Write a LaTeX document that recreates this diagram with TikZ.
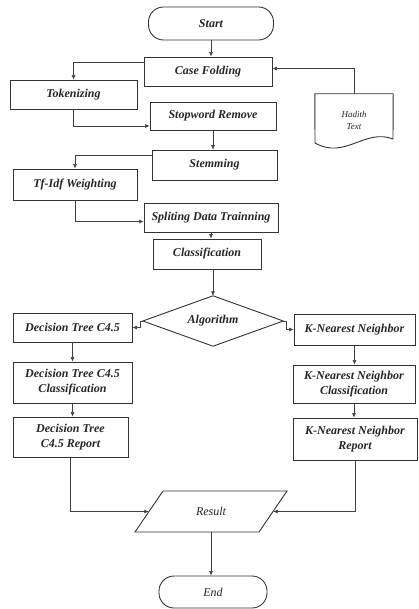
\documentclass[tikz,border=0pt]{standalone}
\usepackage{fontspec}
\setmainfont{Liberation Serif}
\usetikzlibrary{arrows.meta}
\begin{document}
\begin{tikzpicture}[x=1pt,y=-1pt,
  box/.style={draw=black!80,line width=0.9pt,inner sep=0pt,align=center,
    text=black!85,font=\fontsize{12}{15}\selectfont\bfseries\itshape},
  term/.style={box,rounded corners=15pt},
  ghost/.style={inner sep=0pt,align=center,text=black!85,
    font=\fontsize{12}{15}\selectfont\bfseries\itshape},
  shp/.style={draw=black!80,line width=0.9pt},
  arr/.style={draw=black!75,line width=0.6pt,-{Latex[length=4.5pt,width=4pt]}},
  ln/.style={draw=black!75,line width=0.6pt}]
\useasboundingbox (0,0) rectangle (418,609);
\fill[white] (0,0) rectangle (418,609);

\node[term,minimum width=125pt,minimum height=33pt] (start) at (211,23.5) {Start};
\node[box,minimum width=128pt,minimum height=29pt] (cf) at (208,71.5) {Case Folding};
\node[box,minimum width=127pt,minimum height=29pt] (tok) at (73.5,94.5) {Tokenizing};
\node[box,minimum width=126pt,minimum height=28pt] (sw) at (213,116) {Stopword Remove};
\node[inner sep=0pt,minimum width=78pt,minimum height=52pt,align=center,
  text=black!85,font=\fontsize{9}{12}\selectfont\itshape] (hadith) at (354,120) {Hadith\\Text};
\draw[shp] (hadith.north west) -- (hadith.north east) -- (393,139)
  .. controls (365,128) and (345,160) .. (315,143) -- cycle;
\node[box,minimum width=125pt,minimum height=30pt] (stem) at (214.5,165) {Stemming};
\node[box,minimum width=124pt,minimum height=31pt] (tfidf) at (75,184.5) {Tf-Idf Weighting};
\node[box,minimum width=134pt,minimum height=29pt] (split) at (211,217.5) {Spliting Data Trainning};
\node[box,minimum width=108pt,minimum height=30pt] (cls) at (207,254) {Classification};
\node[ghost,minimum width=140pt,minimum height=50pt] (alg) at (213,321) {Algorithm};
\draw[shp] (alg.north) -- (alg.east) -- (alg.south) -- (alg.west) -- cycle;
\node[box,minimum width=119pt,minimum height=29pt] (dt) at (72.5,327.5) {Decision Tree C4.5};
\node[box,minimum width=121pt,minimum height=31pt] (knn) at (354.5,329.5) {K-Nearest Neighbor};
\node[box,minimum width=119pt,minimum height=41pt] (dtc) at (72.5,382.5) {Decision Tree C4.5\\Classification};
\node[box,minimum width=122pt,minimum height=38pt] (knnc) at (354,384) {K-Nearest Neighbor\\Classification};
\node[box,minimum width=115pt,minimum height=40pt] (dtr) at (70.5,437) {Decision Tree\\C4.5 Report};
\node[box,minimum width=124pt,minimum height=42pt] (knnr) at (355,439) {K-Nearest Neighbor\\Report};
\node[ghost,font=\fontsize{12}{15}\selectfont\itshape,minimum width=124pt,minimum height=41pt] (res) at (211,511.5) {Result};
\draw[shp] (135,532) -- (163,491) -- (287,491) -- (259,532) -- cycle;
\node[term,minimum width=108pt,minimum height=32pt,font=\fontsize{12}{15}\selectfont\itshape] (end) at (213,592) {End};

\draw[arr] (start.south) -- (start.south |- cf.north);
\draw[arr] ([yshift=9.5pt]cf.west) -| (tok.north);
\draw[arr] (tok.south) |- ([yshift=-10pt]sw.west);
\draw[arr] (hadith.north) |- ([yshift=3pt]cf.east);
\draw[arr] (sw.south) -- (sw.south |- stem.north);
\draw[arr] ([yshift=10pt]stem.west) -| (tfidf.north);
\draw[arr] (tfidf.south) |- ([yshift=-4pt]split.west);
\draw[arr] (split.south) -- (split.south |- cls.north);
\draw[arr] (alg.north |- cls.south) -- (alg.north);
\draw[arr] (alg.west) -- ++(-3,0) |- (dt.east);
\draw[arr] (alg.east) -- ++(3,0) |- (knn.west);
\draw[arr] (dt.south) -- (dtc.north);
\draw[arr] (dtc.south) -- (dtc.south |- dtr.north);
\draw[arr] (knn.south) -- (knn.south |- knnc.north);
\draw[arr] (knnc.south) -- (knnc.south |- knnr.north);
\draw[arr] (dtr.south) |- (res.west);
\draw[arr] (knnr.south) |- (res.east);
\draw[arr] (res.south) -- (res.south |- end.north);
\end{tikzpicture}
\end{document}
